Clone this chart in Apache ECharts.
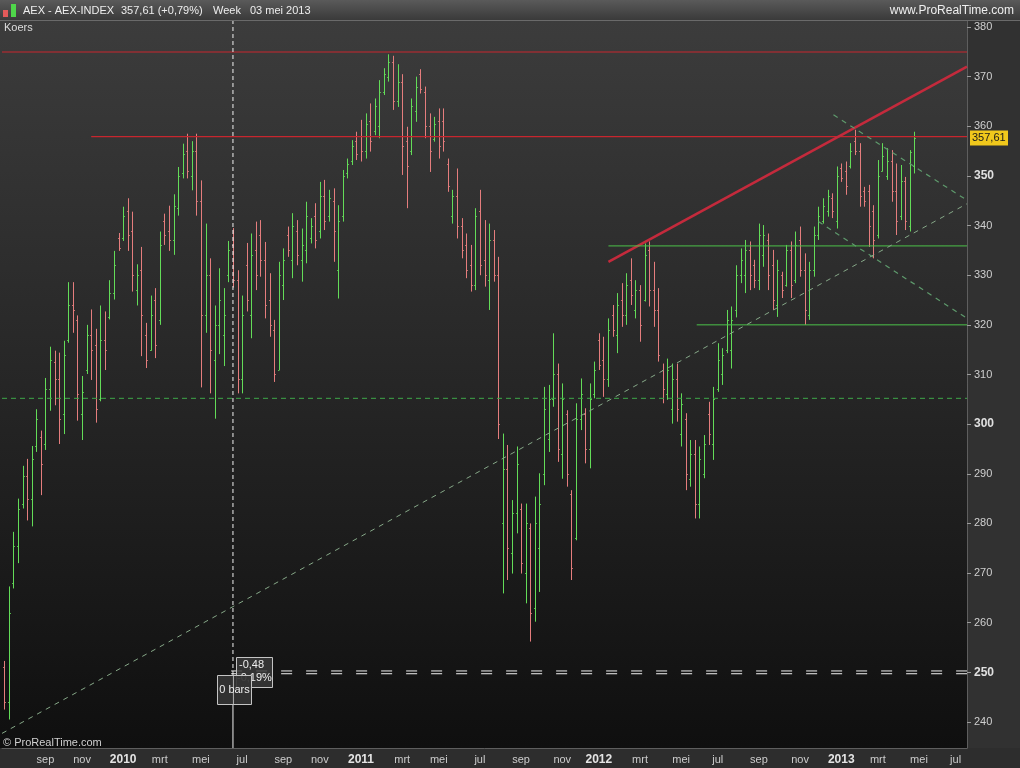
<!DOCTYPE html>
<html><head><meta charset="utf-8">
<script src="https://cdn.jsdelivr.net/npm/echarts@6/dist/echarts.min.js"></script>
<style>html,body{margin:0;padding:0;background:#1a1a1a;overflow:hidden}#c{width:1020px;height:768px}</style>
</head><body><div id="c"></div><script>
// ---------- data ----------
var startWeek = [2009, 6, 10];   // first weekly bar: week ending 10 jul 2009
var totalWeeks = 211;            // 200 bars + empty future weeks
var monthNames = ['jan','feb','mrt','apr','mei','jun','jul','aug','sep','okt','nov','dec'];
var boldTicks = [250, 300, 350];
var yRange = [234.76, 381.41];   // visible price range of the plot

var opens = [251.0,244.0,268.0,275.5,284.0,289.5,285.0,295.5,297.5,296.0,
307.0,312.5,309.0,302.0,317.0,324.0,321.0,302.0,311.0,318.0,
316.0,305.0,317.0,321.5,326.5,337.5,337.5,343.0,339.0,327.0,
331.0,318.0,315.0,325.0,321.0,341.0,339.0,337.0,343.5,350.5,
355.0,350.0,355.0,345.0,322.0,330.0,313.0,320.0,318.0,330.0,
336.0,329.0,309.0,332.0,322.0,335.0,338.0,333.0,325.0,319.0,
311.0,328.0,338.0,333.0,339.0,333.0,335.0,337.5,342.0,339.0,
346.0,342.0,345.0,331.0,342.0,350.5,353.0,357.0,358.0,355.0,
361.0,359.0,360.0,367.0,370.0,373.0,365.0,369.0,357.0,355.0,
363.0,370.5,367.0,360.0,357.5,361.0,361.0,352.5,342.0,346.0,
340.0,336.0,332.0,328.0,343.0,333.0,329.0,337.0,330.0,280.0,
291.0,274.0,282.0,283.0,270.0,279.0,263.0,275.0,290.0,297.0,
305.0,310.0,294.0,302.0,286.0,277.0,301.0,302.0,295.0,306.0,
317.0,313.0,309.0,322.0,318.0,325.0,322.0,329.0,323.0,327.0,
325.0,335.0,327.0,323.0,311.0,306.0,303.0,309.0,298.0,301.0,
289.0,294.0,284.0,290.0,302.0,296.0,307.0,310.0,315.0,315.0,
323.0,330.0,330.0,335.0,332.0,329.0,334.0,337.0,332.0,324.0,
330.0,328.0,335.0,329.0,337.0,331.0,322.0,331.0,338.0,341.0,
343.0,345.5,341.0,351.5,351.0,352.0,357.0,355.0,347.0,347.0,
343.0,338.0,351.0,350.0,353.0,347.0,342.0,349.0,340.0,352.0];

var highs = [252.3,267.3,278.3,285.0,291.6,293.0,295.6,303.0,298.7,309.3,
315.6,314.8,314.4,316.8,328.6,328.6,321.9,309.7,320.0,323.1,
319.2,323.9,322.7,329.0,334.9,338.5,343.8,345.5,342.8,332.2,
335.7,320.4,325.9,327.4,338.8,342.4,344.0,346.3,351.8,356.5,
358.5,357.0,358.5,349.1,340.4,333.4,323.9,331.4,327.4,336.9,
339.5,331.0,325.9,336.5,338.4,340.8,341.1,336.7,330.4,321.0,
332.7,335.4,339.8,342.5,341.1,339.4,344.8,341.5,344.5,348.8,
349.2,347.2,347.5,344.1,351.2,353.5,357.2,358.9,361.3,362.6,
364.6,365.6,369.3,371.7,374.5,374.2,372.5,370.5,359.9,365.6,
370.0,371.5,368.0,362.6,361.9,363.6,363.6,353.5,347.2,351.5,
341.5,338.4,336.1,343.5,347.2,341.1,340.4,339.1,333.7,298.1,
295.8,284.7,295.5,284.0,284.0,280.0,285.4,290.1,307.5,307.9,
318.3,312.2,308.2,302.8,286.7,304.2,309.2,303.2,308.2,312.6,
318.3,317.6,321.3,324.0,326.4,328.4,330.4,333.4,329.0,328.0,
336.4,336.8,332.7,327.4,312.2,313.2,312.2,312.2,306.2,302.2,
296.8,296.8,295.5,297.8,304.5,307.5,316.3,315.3,323.0,323.7,
332.0,335.4,337.1,336.8,333.1,340.4,340.1,338.4,335.1,333.1,
330.7,336.1,336.8,338.8,339.8,334.4,332.7,339.8,343.8,345.5,
347.2,346.5,351.9,352.5,352.9,356.6,359.3,356.6,347.8,348.2,
344.1,353.2,356.6,355.6,355.2,352.5,352.2,349.8,355.2,358.9];

var lows = [242.5,240.5,266.9,272.0,283.0,280.6,279.4,294.4,285.7,294.8,
302.7,303.8,296.0,298.0,316.4,318.4,300.7,296.8,310.1,308.9,
300.3,304.6,310.9,321.1,325.1,334.9,336.9,334.9,326.7,323.9,
313.7,311.3,314.8,313.3,320.0,336.1,334.9,334.1,342.0,349.5,
349.5,347.1,342.0,307.4,318.4,306.2,301.1,314.1,311.7,328.6,
327.5,306.2,306.2,322.7,317.3,327.0,329.7,321.3,317.6,308.5,
310.9,325.0,333.7,329.4,332.0,328.7,332.4,336.4,335.4,337.4,
339.1,340.8,332.7,325.3,340.8,349.5,352.2,353.2,352.9,353.5,
354.9,358.2,357.6,366.3,369.0,363.3,363.9,350.2,343.5,354.2,
360.9,366.6,357.6,350.8,356.9,353.5,354.9,346.8,340.4,337.4,
333.4,329.4,326.7,327.0,330.0,327.7,323.0,328.7,297.0,265.9,
268.6,269.9,278.0,269.9,263.9,256.2,260.2,266.2,287.7,294.4,
303.5,292.4,289.0,287.4,268.6,276.6,298.8,292.1,291.1,305.2,
310.9,305.5,307.5,317.6,314.3,319.6,320.0,324.0,321.3,316.6,
324.7,323.7,319.6,312.6,304.2,304.9,300.1,300.5,295.5,286.7,
287.4,281.0,281.0,289.1,295.8,292.8,306.5,307.9,314.3,311.2,
321.5,328.4,326.4,327.0,327.4,327.0,331.7,327.0,323.0,321.6,
325.4,327.7,325.4,328.4,329.7,320.0,321.0,329.7,337.1,340.4,
341.8,341.5,339.4,348.8,346.2,351.5,354.2,343.8,343.8,335.7,
333.4,337.4,350.9,349.2,344.8,338.1,341.1,339.1,338.8,350.5];

var closes = [244.0,262.0,275.5,283.0,289.5,285.0,293.0,301.0,292.0,307.0,
313.0,309.0,301.0,314.0,324.0,323.0,306.0,306.5,318.0,315.0,
303.0,317.0,315.0,326.5,332.0,335.5,342.0,338.0,330.0,330.0,
322.0,313.0,322.0,316.0,336.0,338.0,337.0,344.0,350.0,354.5,
351.0,355.0,345.0,322.0,330.0,315.0,320.0,325.0,322.0,335.0,
329.0,309.0,322.0,325.0,334.0,330.0,333.0,324.0,320.0,310.0,
330.0,333.0,335.0,340.0,334.0,336.0,342.0,340.0,337.0,346.0,
341.0,345.5,339.0,341.0,350.0,352.5,356.0,354.5,355.0,360.5,
357.0,364.0,367.0,370.5,373.0,365.0,369.0,356.0,352.0,364.0,
368.0,367.5,360.0,355.0,360.5,356.0,357.0,348.0,346.0,340.0,
335.0,331.0,328.0,342.0,332.0,330.0,337.0,330.0,300.0,291.0,
275.0,282.0,292.0,272.0,280.0,262.0,280.0,284.0,303.0,305.0,
310.0,295.0,305.0,290.0,271.0,301.0,306.0,295.0,305.0,311.0,
312.0,309.0,319.0,319.0,324.0,322.0,328.0,326.0,327.0,320.0,
334.0,327.0,323.0,314.0,307.0,311.0,309.0,303.0,304.0,290.0,
294.0,284.0,293.0,296.0,298.0,305.0,313.0,314.0,321.0,321.0,
330.0,333.0,335.0,330.0,329.0,338.0,338.0,330.0,325.0,331.0,
327.0,335.0,328.0,336.0,331.0,323.0,331.0,338.0,342.0,344.0,
346.0,343.0,350.0,349.5,348.0,355.0,355.0,346.0,345.0,340.0,
337.0,350.0,354.0,353.0,347.0,341.0,349.0,341.0,354.8,357.61];

// drawing lines: [barIndex, value] endpoints
var topResistance  = [[-0.5, 374.96], [210.5, 374.96]];
var resistance2010 = [[19.0, 357.9], [210.5, 357.9]];
var redTrend       = [[132.1, 332.7], [210.5, 372.0]];
var greenLevelHigh = [[132.1, 335.9], [210.5, 335.9]];
var greenLevelLow  = [[151.4, 320.0], [210.5, 320.0]];
var dashedLevel    = [[-0.5, 305.2], [210.5, 305.2]];
var longTrend      = [[-0.5, 237.7], [210.5, 344.4]];
var channelUpper   = [[181.3, 362.3], [210.5, 345.1]];
var channelLower   = [[178.0, 340.8], [210.5, 321.3]];
var cursorIndex = 50, cursorValue = 250;
var cursorTexts = ['-0,48', '-0,19%', '0 bars'];
var lastPrice = 357.61;

// ---------- build ----------
var cats = [];
var d0 = Date.UTC(startWeek[0], startWeek[1], startWeek[2]);
for (var i = 0; i < totalWeeks; i++) {
  cats.push(new Date(d0 + i * 7 * 864e5).toISOString().slice(0, 10));
}
function isMonthStart(idx, val) {
  if (idx < 3) return false;
  var d = new Date(Date.parse(val + 'T00:00:00Z') - 4 * 864e5); // monday of week
  return d.getUTCDate() <= 7 && d.getUTCMonth() % 2 === 0;
}
var ohlc = [];
for (var k = 0; k < closes.length; k++) ohlc.push([k, opens[k], highs[k], lows[k], closes[k]]);

var GREEN = '#63dc58', RED = '#e57d7d';
var FONT = '"Liberation Sans", Arial, sans-serif';

function lineSeries(data, color, width, type, z) {
  return { type: 'line', xAxisIndex: 1, yAxisIndex: 0, data: data, symbol: 'none',
    silent: true, z: z || 3, animation: false,
    lineStyle: { color: color, width: width, type: type || 'solid' } };
}
function txt(id, x, y, s, fill, size, weight, align) {
  return { type: 'text', id: id, z: 60, silent: true,
    style: { x: x, y: y, text: s, fill: fill, font: (weight || 'normal') + ' ' + size + 'px ' + FONT,
      align: align || 'left', textAlign: align || 'left', verticalAlign: 'middle', textVerticalAlign: 'middle' } };
}

var chart = echarts.init(document.getElementById('c'), null, { width: 1020, height: 768 });
var option = {
  animation: false,
  backgroundColor: '#1a1a1a',
  grid: { left: 2, right: 53, top: 20, bottom: 20, containLabel: false, outerBoundsMode: 'none' },
  xAxis: [{
    type: 'category', data: cats, boundaryGap: true, position: 'bottom',
    axisLine: { onZero: false, lineStyle: { color: '#5e5e5e', width: 1 } },
    axisTick: { interval: isMonthStart, length: 4, lineStyle: { color: '#8c8c8c' } },
    axisLabel: { interval: isMonthStart, margin: 6,
      formatter: function (v) {
        var d = new Date(Date.parse(v + 'T00:00:00Z') - 4 * 864e5);
        var m = d.getUTCMonth();
        return m === 0 ? '{y|' + d.getUTCFullYear() + '}' : '{m|' + monthNames[m] + '}';
      },
      rich: { y: { fontFamily: FONT, fontSize: 12, fontWeight: 'bold', color: '#e4e4e4' },
              m: { fontFamily: FONT, fontSize: 11, color: '#cccccc' } } },
    splitLine: { show: false }
  }, {
    type: 'value', min: -0.5, max: 210.5, show: false, position: 'top',
    axisLine: { onZero: false }
  }],
  yAxis: [{
    type: 'value', position: 'right', min: yRange[0], max: yRange[1], splitNumber: 14,
    axisLine: { show: true, onZero: false, lineStyle: { color: '#5e5e5e' } },
    axisTick: { show: true, length: 4, lineStyle: { color: '#9a9a9a' } },
    axisLabel: { margin: 7, showMinLabel: false, showMaxLabel: false,
      formatter: function (v) {
        var r = Math.round(v);
        if (Math.abs(v - r) > 0.01 || r % 10 !== 0) return '';
        return boldTicks.indexOf(r) >= 0 ? '{b|' + r + '}' : '{n|' + r + '}';
      },
      rich: { b: { fontFamily: FONT, fontSize: 12, fontWeight: 'bold', color: '#e0e0e0' },
              n: { fontFamily: FONT, fontSize: 11, color: '#cfcfcf' } } },
    splitLine: { show: false }
  }],
  graphic: [
    { type: 'rect', id: 'plotbg', z: -10, silent: true, shape: { x: 0, y: 20, width: 967, height: 728 },
      style: { fill: new echarts.graphic.LinearGradient(0, 0, 0, 1, [
        { offset: 0, color: '#3c3c3c' }, { offset: 0.5, color: '#262626' }, { offset: 1, color: '#0f0f0f' }]) } },
    { type: 'rect', id: 'rightbg', z: -10, silent: true, shape: { x: 967, y: 20, width: 53, height: 748 },
      style: { fill: '#313131' } },
    { type: 'rect', id: 'bottombg', z: -10, silent: true, shape: { x: 0, y: 748, width: 1020, height: 20 },
      style: { fill: '#2d2d2d' } },
    { type: 'rect', id: 'titlebg', z: 50, silent: true, shape: { x: 0, y: 0, width: 1020, height: 20 },
      style: { fill: new echarts.graphic.LinearGradient(0, 0, 0, 1, [
        { offset: 0, color: '#5a5a5a' }, { offset: 1, color: '#3a3a3a' }]) } },
    { type: 'line', id: 'titleline', z: 51, silent: true, shape: { x1: 0, y1: 20.5, x2: 1020, y2: 20.5 },
      style: { stroke: '#6a6a6a', lineWidth: 1 } },
    { type: 'rect', id: 'icoR', z: 55, silent: true, shape: { x: 3, y: 10, width: 5, height: 7 }, style: { fill: '#e25a5a' } },
    { type: 'rect', id: 'icoG', z: 55, silent: true, shape: { x: 11, y: 4, width: 5, height: 13 }, style: { fill: '#4fd64a' } },
    txt('t1', 23, 11, 'AEX - AEX-INDEX', '#eeeeee', 11),
    txt('t2', 121, 11, '357,61 (+0,79%)', '#eeeeee', 11),
    txt('t3', 213, 11, 'Week', '#eeeeee', 11),
    txt('t3b', 250, 11, '03 mei 2013', '#eeeeee', 11),
    txt('t4', 1014, 11, 'www.ProRealTime.com', '#eeeeee', 12, 'normal', 'right'),
    txt('t5', 4, 28, 'Koers', '#dddddd', 11),
    txt('t6', 3, 743, '\u00a9 ProRealTime.com', '#d0d0d0', 11)
  ],
  series: [
    {
      type: 'custom', name: 'AEX', xAxisIndex: 0, yAxisIndex: 0, data: ohlc, z: 2, clip: true,
      encode: { x: 0, y: [1, 2, 3, 4] },
      renderItem: function (params, api) {
        var i = api.value(0);
        var o = api.value(1), h = api.value(2), l = api.value(3), c = api.value(4);
        var x = Math.round(api.coord([i, h])[0]) + 0.5;
        var yh = api.coord([i, h])[1], yl = api.coord([i, l])[1];
        var yo = Math.round(api.coord([i, o])[1]) + 0.5, yc = Math.round(api.coord([i, c])[1]) + 0.5;
        var col = c >= o ? GREEN : RED;
        return { type: 'group', children: [
          { type: 'line', shape: { x1: x, y1: yh, x2: x, y2: yl }, style: { stroke: col, lineWidth: 1 } },
          { type: 'line', shape: { x1: x - 1.5, y1: yo, x2: x, y2: yo }, style: { stroke: col, lineWidth: 1, opacity: 0.8 } },
          { type: 'line', shape: { x1: x, y1: yc, x2: x + 1.5, y2: yc }, style: { stroke: col, lineWidth: 1, opacity: 0.8 } }
        ] };
      }
    },
    lineSeries(topResistance, '#c8262e', 1.2),
    lineSeries(resistance2010, '#c8262e', 1.2),
    lineSeries(redTrend, '#c42a3c', 2.6),
    lineSeries(greenLevelHigh, '#4cc24a', 1),
    lineSeries(greenLevelLow, '#4cc24a', 1),
    lineSeries(dashedLevel, '#3fa84a', 1, [5, 4]),
    lineSeries(longTrend, '#86a888', 1, [5, 5]),
    lineSeries(channelUpper, '#5e9a6c', 1.2, [5, 5]),
    lineSeries(channelLower, '#5e9a6c', 1.2, [5, 5]),
    lineSeries([[cursorIndex, yRange[1]], [cursorIndex, cursorValue]], '#f2f2f2', 1, [4, 3], 6),
    lineSeries([[cursorIndex, cursorValue], [cursorIndex, yRange[0]]], '#f2f2f2', 1, 'solid', 6),
    lineSeries([[cursorIndex - 0.4, cursorValue + 0.28], [210.5, cursorValue + 0.28]], '#f2f2f2', 1, [11, 14], 6),
    lineSeries([[cursorIndex - 0.4, cursorValue - 0.28], [210.5, cursorValue - 0.28]], '#f2f2f2', 1, [11, 14], 6)
  ]
};
chart.setOption(option);

// annotations positioned through the chart's own scales
var cp = chart.convertToPixel({ xAxisIndex: 1, yAxisIndex: 0 }, [cursorIndex, cursorValue]);
var py = chart.convertToPixel({ yAxisIndex: 0 }, lastPrice);
var cx = Math.round(cp[0]), cy = Math.round(cp[1]);
chart.setOption({ graphic: [
  { type: 'rect', id: 'boxA', z: 20, silent: true, shape: { x: cx + 3.5, y: cy - 14.5, width: 36, height: 30 },
    style: { fill: 'rgba(58,58,58,0.85)', stroke: '#c4c4c4', lineWidth: 1 } },
  { type: 'text', id: 'boxAt1', z: 21, silent: true, style: { x: cx + 6, y: cy - 7, text: cursorTexts[0], fill: '#eeeeee',
      font: '11px ' + FONT, verticalAlign: 'middle', textVerticalAlign: 'middle' } },
  { type: 'text', id: 'boxAt2', z: 21, silent: true, style: { x: cx + 4, y: cy + 6, text: cursorTexts[1], fill: '#eeeeee',
      font: '11px ' + FONT, verticalAlign: 'middle', textVerticalAlign: 'middle' } },
  { type: 'rect', id: 'boxB', z: 22, silent: true, shape: { x: cx - 15.5, y: cy + 3.5, width: 34, height: 29 },
    style: { fill: 'rgba(52,52,52,0.92)', stroke: '#c4c4c4', lineWidth: 1 } },
  { type: 'line', id: 'boxBline', z: 23, silent: true, shape: { x1: cx + 0.5, y1: cy + 4, x2: cx + 0.5, y2: cy + 32 },
    style: { stroke: 'rgba(240,240,240,0.6)', lineWidth: 1 } },
  { type: 'text', id: 'boxBt', z: 24, silent: true, style: { x: cx + 1.5, y: cy + 18, text: cursorTexts[2], fill: '#eeeeee',
      font: '11px ' + FONT, align: 'center', textAlign: 'center', verticalAlign: 'middle', textVerticalAlign: 'middle' } },
  { type: 'rect', id: 'priceTag', z: 30, silent: true, shape: { x: 970, y: Math.round(py) - 7.5, width: 38, height: 15 },
    style: { fill: '#f0c81c' } },
  { type: 'text', id: 'priceTagT', z: 31, silent: true, style: { x: 972, y: Math.round(py), text: '357,61', fill: '#1a1a1a',
      font: '11px ' + FONT, verticalAlign: 'middle', textVerticalAlign: 'middle' } }
] });
</script></body></html>
